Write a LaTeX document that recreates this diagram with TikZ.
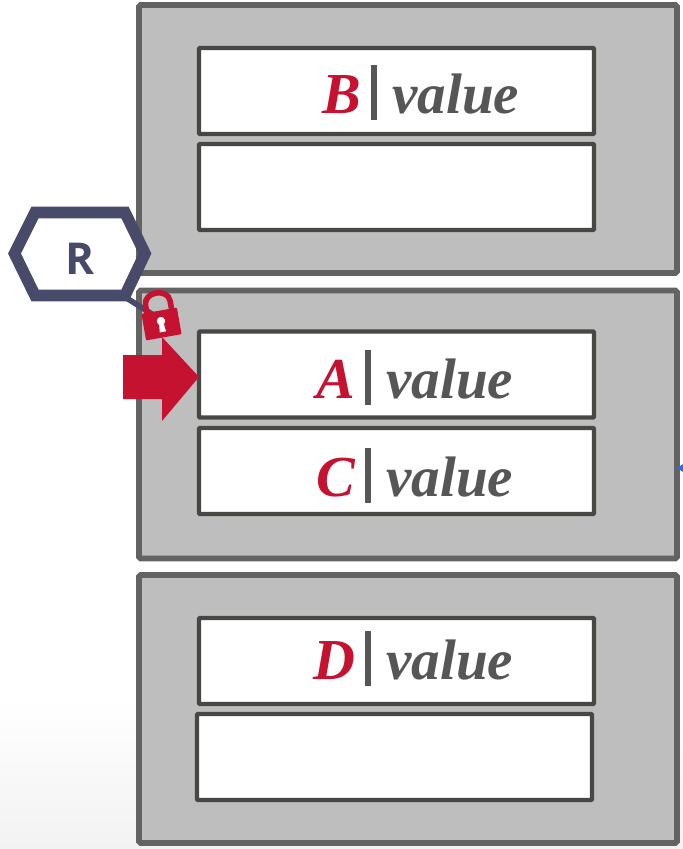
\documentclass[tikz,border=0pt]{standalone}
\usepackage{fontspec}
\setmainfont{Liberation Serif}
\newfontfamily\labelfont{Open Sans}
\definecolor{pagefill}{HTML}{BEBEBE}
\definecolor{pageline}{HTML}{636363}
\definecolor{slotline}{HTML}{474744}
\definecolor{keyred}{HTML}{C41230}
\definecolor{valgray}{HTML}{565656}
\definecolor{readerblue}{HTML}{474A68}
\definecolor{markblue}{HTML}{2E6FD9}
\definecolor{floorgray}{HTML}{F2F2F2}
\begin{document}
\begin{tikzpicture}[x=0.02cm,y=-0.02cm]
\tikzstyle{page}=[draw=pageline,fill=pagefill,line width=3.3pt,rounded corners=1pt,minimum width=10.76cm,minimum height=5.36cm,inner sep=0pt]
\tikzstyle{slot}=[draw=slotline,fill=white,line width=2.4pt,rounded corners=0.5pt,minimum width=7.9cm,minimum height=1.72cm,inner sep=0pt]
\tikzstyle{keytext}=[text=keyred,font=\fontsize{33}{33}\selectfont\bfseries\itshape,anchor=base east,inner sep=0pt]
\tikzstyle{valtext}=[text=valgray,font=\fontsize{32.5}{33}\selectfont\bfseries\itshape,anchor=base west,inner sep=0pt]
\useasboundingbox (0,0) rectangle (683,849);
\shade[top color=white,bottom color=floorgray] (0,700) rectangle (683,849);
\foreach \name/\point in {
	page1/{408,139},
	page2/{408,424.5},
	page3/{408,709}}
	\node[page] (\name) at (\point) {};
\foreach \name/\point in {
	slot1/{396.5,91},
	slot2/{396.5,187},
	slot3/{396.5,374.5},
	slot4/{396.5,471},
	slot5/{396.5,661},
	slot6/{394.5,757}}
	\node[slot] (\name) at (\point) {};
\foreach \letter/\barx/\basey in {
	B/374/113,
	A/368/398,
	C/368/496,
	D/368/679}
{
	\node[keytext] (key\letter) at (\barx-12,\basey) {\letter};
	\node[valtext] (val\letter) at (\barx+18,\basey) {value};
	\draw[valgray,line width=3.2pt] (\barx,\basey-48) -- (\barx,\basey+7);
}
\coordinate (rcorner) at (125,297);
\coordinate (lockpin) at (155,316);
\draw[readerblue,line width=3.2pt] (rcorner) -- (lockpin);
\draw[readerblue,line width=6.6pt,line join=miter] (14.5,253.5) -- (35,212.5) -- (125,212.5) -- (145,253.5) -- (125,295.5) -- (35,295.5) -- cycle;
\node[text=readerblue,font=\labelfont\fontseries{sb}\bfseries\fontsize{25}{25}\selectfont,inner sep=0pt] (reader) at (79.5,259) {R};
\fill[keyred] (123,355) -- (162,355) -- (162,337) -- (199,377) -- (162,421) -- (162,399) -- (123,399) -- cycle;
\begin{scope}[shift={(161.5,324)},rotate=10]
\draw[keyred,line width=3.2pt] (-12.5,-12) -- (-12.5,-21) .. controls (-12.5,-35) and (12.5,-35) .. (12.5,-21) -- (12.5,-12);
\fill[keyred,rounded corners=0.5pt] (-18,-13.5) rectangle (18,13.5);
\fill[white] (0,-3) circle (4.2);
\fill[white] (-2,-3) -- (2,-3) -- (3.2,8) -- (-3.2,8) -- cycle;
\end{scope}
\fill[markblue] (677,468) -- (683,464) -- (683,472) -- cycle;
\end{tikzpicture}
\end{document}
